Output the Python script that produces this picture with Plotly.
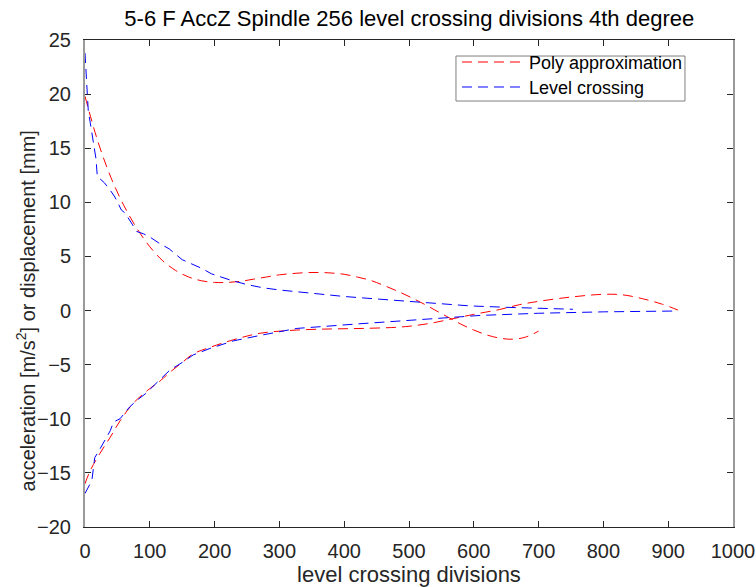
import plotly.graph_objects as go

# ---- data ----
poly_top_x = [0, 20, 40, 60, 80, 100, 120, 140, 160, 180, 200, 220, 240, 260, 280, 300, 320, 340, 360,
              380, 400, 420, 440, 460, 480, 500, 520, 540, 560, 580, 600, 620, 640, 660, 680, 700]
poly_top_y = [19.8, 15.6, 12.3, 9.7, 7.6, 5.9, 4.6, 3.7, 3.1, 2.75, 2.6, 2.6, 2.7, 2.9, 3.1, 3.3, 3.42, 3.5, 3.52,
              3.47, 3.35, 3.1, 2.8, 2.35, 1.85, 1.3, 0.7, 0.05, -0.6, -1.25, -1.8, -2.25, -2.55, -2.65, -2.45, -1.9]

poly_bot_x = [0, 8, 23, 39, 54, 74, 96, 116, 131, 150, 167, 193, 229, 270, 327, 380, 429, 480, 500, 520,
              540, 560, 580, 600, 640, 671, 700, 750, 800, 830, 860, 890, 915]
poly_bot_y = [-16.0, -14.8, -13.2, -11.7, -10.2, -8.6, -7.4, -6.5, -5.7, -4.8, -4.0, -3.4, -2.7, -2.1, -1.8, -1.7,
              -1.65, -1.55, -1.45, -1.3, -1.1, -0.85, -0.6, -0.35, 0.1, 0.55, 0.85, 1.25, 1.5, 1.45, 1.1, 0.6, 0.05]

lc_top_x = [0, 2, 3, 5, 8, 12, 15, 17, 19, 24, 30, 38, 46, 52, 56, 62, 68, 75, 80, 90, 100, 115, 130, 140,
            150, 165, 180, 195, 210, 225, 250, 275, 300, 330, 360, 400, 455, 500, 530, 560, 594, 650, 700, 753]
lc_top_y = [23.8, 21.5, 20.0, 18.5, 17.4, 16.0, 15.1, 14.0, 12.4, 12.1, 11.8, 11.2, 10.5, 9.8, 9.3, 9.0, 8.4,
            7.8, 7.3, 7.1, 6.8, 6.2, 5.7, 5.2, 4.7, 4.3, 3.9, 3.4, 3.1, 2.8, 2.4, 2.1, 1.9, 1.7, 1.5, 1.3, 1.05,
            0.85, 0.68, 0.55, 0.43, 0.3, 0.2, 0.12]

lc_bot_x = [0, 8, 11, 12, 15, 23, 31, 39, 44, 54, 69, 80, 93, 105, 113, 131, 150, 167, 193, 229, 270, 327,
            429, 532, 610, 700, 800, 915]
lc_bot_y = [-16.9, -16.0, -15.5, -15.0, -13.6, -12.8, -11.9, -11.1, -10.3, -10.0, -8.9, -8.3, -7.7, -7.0,
            -6.5, -5.5, -4.8, -4.1, -3.5, -2.8, -2.3, -1.65, -1.2, -0.8, -0.45, -0.25, -0.12, -0.04]

x_ticks = [0, 100, 200, 300, 400, 500, 600, 700, 800, 900, 1000]
y_ticks = [-20, -15, -10, -5, 0, 5, 10, 15, 20, 25]

legend_names = ["Poly approximation", "Level crossing"]
legend_colors = ["#ff0000", "#0000ff"]

FONT = "Liberation Sans, Arial, sans-serif"
DASH = "10px,6px"
TXT = "#262626"

fig = go.Figure()
fig.add_trace(go.Scatter(x=poly_top_x, y=poly_top_y, mode="lines", name=legend_names[0],
                         line=dict(color=legend_colors[0], width=1, dash=DASH, shape="spline")))
fig.add_trace(go.Scatter(x=poly_bot_x, y=poly_bot_y, mode="lines", name=legend_names[0],
                         line=dict(color=legend_colors[0], width=1, dash=DASH, shape="spline")))
fig.add_trace(go.Scatter(x=lc_top_x, y=lc_top_y, mode="lines", name=legend_names[1],
                         line=dict(color=legend_colors[1], width=1, dash=DASH)))
fig.add_trace(go.Scatter(x=lc_bot_x, y=lc_bot_y, mode="lines", name=legend_names[1],
                         line=dict(color=legend_colors[1], width=1, dash=DASH)))

axis_common = dict(
    showgrid=False, zeroline=False, ticks="inside", ticklen=6, tickwidth=1,
    tickcolor=TXT, mirror="ticks", showline=True, automargin=False,
    tickfont=dict(family=FONT, size=20, color=TXT),
)

fig.update_xaxes(range=[0, 1000], tickvals=x_ticks, linecolor=TXT, linewidth=1,
                 ticklabelstandoff=6,
                 title=dict(text="level crossing divisions", font=dict(family=FONT, size=22, color=TXT),
                            standoff=6),
                 **axis_common)
fig.update_yaxes(range=[-20, 25], tickvals=y_ticks, linecolor="#9a9a9a", linewidth=2,
                 ticklabelstandoff=8, **axis_common)

# y-axis label (placed as rotated text to match the reference position)
fig.add_annotation(text="acceleration [m/s<sup>2</sup>] or displacement [mm]",
                   xref="paper", yref="paper", x=-0.092, y=0.4435, xanchor="center", yanchor="middle",
                   textangle=-90, showarrow=False,
                   font=dict(family=FONT, size=20, color=TXT))

# legend box drawn like the reference (long dashed samples)
fig.add_shape(type="rect", xref="paper", yref="paper", x0=0.5725, x1=0.9259, y0=0.8747, y1=0.9671,
              line=dict(color="#7f7f7f", width=1), fillcolor="white", layer="above")
leg_rows = [0.9548, 0.9035]
for name, col, yy in zip(legend_names, legend_colors, leg_rows):
    fig.add_shape(type="line", xref="paper", yref="paper", x0=0.5818, x1=0.6744, y0=yy, y1=yy,
                  line=dict(color=col, width=1, dash=DASH), layer="above")
    fig.add_annotation(text=name, xref="paper", yref="paper", x=0.6821, y=yy - 0.002,
                       xanchor="left", yanchor="middle", showarrow=False,
                       font=dict(family=FONT, size=18, color="#000000"))

fig.update_layout(
    width=756, height=587,
    margin=dict(l=85, r=23, t=40, b=60),
    paper_bgcolor="white", plot_bgcolor="white",
    title=dict(text="5-6 F AccZ Spindle 256 level crossing divisions 4th degree",
               font=dict(family=FONT, size=22, color="#000000"),
               x=0.5414, xanchor="center", y=0.968, yanchor="middle"),
    showlegend=False,
)

fig.write_html("out.html")
